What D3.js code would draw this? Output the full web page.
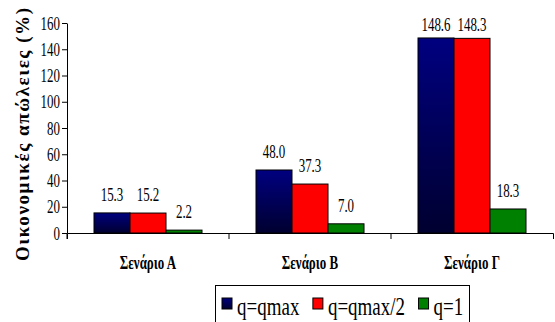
<!DOCTYPE html>
<html>
<head>
<meta charset="utf-8">
<script src="https://cdn.jsdelivr.net/npm/d3@7"></script>
<style>
  html, body { margin: 0; padding: 0; background: #fff; }
  svg { display: block; }
  text { font-family: "Liberation Serif", "Times New Roman", serif; fill: #000; }
</style>
</head>
<body>
<svg id="chart" width="555" height="322"></svg>
<script>
// Scenarios and the three loss series (%)
const categories = ["Σενάριο Α", "Σενάριο Β", "Σενάριο Γ"];
const seriesNames = ["q=qmax", "q=qmax/2", "q=1"];
const qMax = [15.3, 48.0, 148.6];
const qHalf = [15.2, 37.3, 148.3];
const qOne = [2.2, 7.0, 18.3];
const yTicks = [0, 20, 40, 60, 80, 100, 120, 140, 160];
const yTitle = "Οικονομικές απώλειες (%)";

const seriesValues = [qMax, qHalf, qOne];
const fills = ["url(#navyGrad)", "#ff0000", "#008000"];

const svg = d3.select("#chart");
const plot = { left: 67, right: 553, top: 23, bottom: 233 };
const SX = 0.72; // narrow serif lettering

const defs = svg.append("defs");
const grad = defs.append("linearGradient")
  .attr("id", "navyGrad").attr("x1", 0).attr("y1", 0).attr("x2", 0).attr("y2", 1);
grad.append("stop").attr("offset", "0%").attr("stop-color", "#000080");
grad.append("stop").attr("offset", "100%").attr("stop-color", "#000030");

const y = d3.scaleLinear().domain([0, 160]).range([plot.bottom, plot.top]);
const x = d3.scaleBand().domain(categories).range([plot.left, plot.right]).padding(0);
const xs = d3.scaleBand().domain(seriesNames).range([0, x.bandwidth()])
  .paddingInner(0).paddingOuter(0.75);

// Bars
const groups = svg.append("g").selectAll("g")
  .data(categories)
  .join("g")
  .attr("transform", d => `translate(${x(d)},0)`);

groups.each(function(cat, ci) {
  const g = d3.select(this);
  const rows = seriesNames.map((s, si) => ({ s, si, v: seriesValues[si][ci] }));
  g.selectAll("rect")
    .data(rows)
    .join("rect")
    .attr("x", d => xs(d.s))
    .attr("y", d => y(d.v))
    .attr("width", xs.bandwidth())
    .attr("height", d => y(0) - y(d.v))
    .attr("fill", d => fills[d.si])
    .attr("stroke", "#000")
    .attr("stroke-width", 1);

  g.selectAll("text.val")
    .data(rows)
    .join("text")
    .attr("class", "val")
    .attr("text-anchor", "middle")
    .attr("font-size", 18)
    .attr("transform", d => {
      const ty = Math.max(y(d.v) - 12, plot.top + 7.7);
      return `translate(${xs(d.s) + xs.bandwidth() / 2},${ty}) scale(${SX},1)`;
    })
    .text(d => d.v.toFixed(1));
});

// Y axis
const yAxis = svg.append("g")
  .attr("transform", `translate(${plot.left},0)`)
  .call(d3.axisLeft(y).tickValues(yTicks).tickSize(5).tickSizeOuter(0).tickFormat(d3.format("d")));
yAxis.select(".domain").attr("stroke", "#000");
yAxis.selectAll(".tick line").attr("stroke", "#000");
yAxis.selectAll(".tick text")
  .attr("x", null).attr("dy", null)
  .attr("font-family", null)
  .attr("font-size", 18)
  .attr("fill", "#000")
  .attr("transform", `translate(-7,6) scale(${SX},1)`);

// X axis with boundary ticks
const xAxis = svg.append("g")
  .attr("transform", `translate(0,${plot.bottom})`)
  .call(d3.axisBottom(x).tickSize(0).tickSizeOuter(6).tickPadding(0));
xAxis.select(".domain").attr("stroke", "#000");
xAxis.selectAll(".tick text")
  .attr("y", null).attr("dy", null)
  .attr("font-family", null)
  .attr("font-size", 18)
  .attr("font-weight", "bold")
  .attr("fill", "#000")
  .attr("transform", `translate(0,36) scale(${SX},1)`);
xAxis.selectAll("line.bound")
  .data(categories)
  .join("line")
  .attr("class", "bound")
  .attr("x1", d => x(d)).attr("x2", d => x(d))
  .attr("y1", 0).attr("y2", 6)
  .attr("stroke", "#000");

// Y axis title
svg.append("text")
  .attr("transform", "translate(29,134.5) rotate(-90)")
  .attr("text-anchor", "middle")
  .attr("font-size", 19)
  .attr("font-weight", "bold")
  .attr("textLength", 253)
  .attr("lengthAdjust", "spacing")
  .text(yTitle);

// Legend
const legend = svg.append("g").attr("transform", "translate(215,285)");
legend.append("rect")
  .attr("x", 0.5).attr("y", 0.5).attr("width", 254).attr("height", 60)
  .attr("fill", "#fff").attr("stroke", "#000");
let lx = 7;
seriesNames.forEach((name, i) => {
  const item = legend.append("g").attr("transform", `translate(${lx},0)`);
  item.append("rect")
    .attr("x", 0).attr("y", 13).attr("width", 10).attr("height", 11)
    .attr("fill", fills[i]).attr("stroke", "#000");
  const t = item.append("text")
    .attr("font-size", 25)
    .attr("transform", `translate(15,30) scale(0.76,1)`)
    .text(name);
  const w = t.node().getComputedTextLength() * 0.76;
  lx += 15 + w + 13.5;
});
</script>
</body>
</html>
